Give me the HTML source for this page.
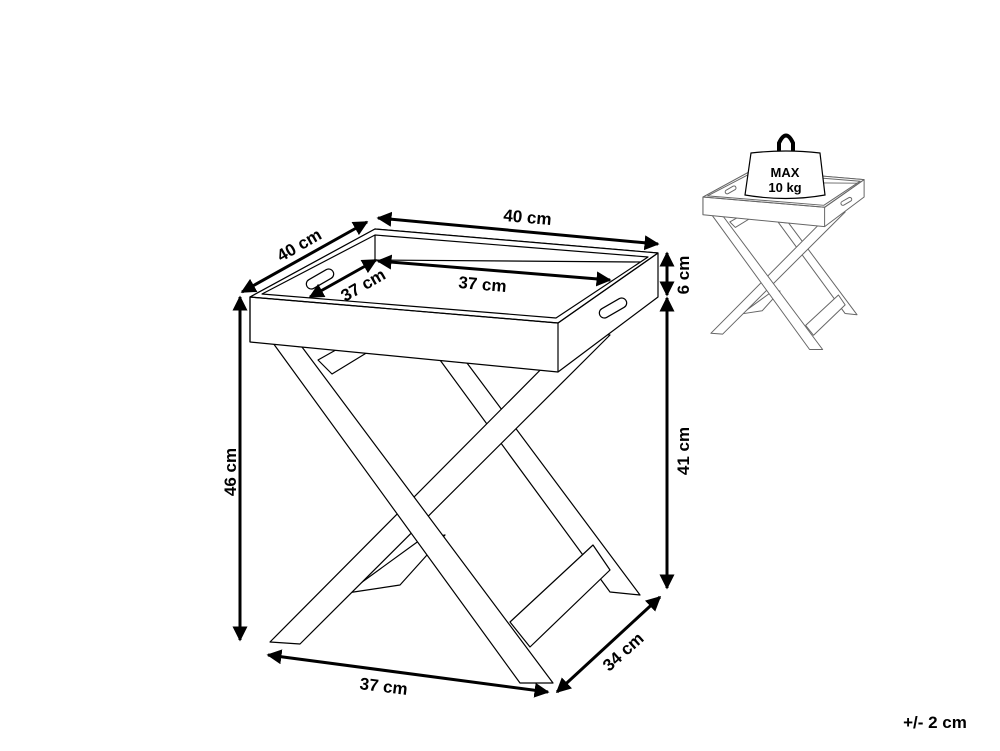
<!DOCTYPE html>
<html><head><meta charset="utf-8"><style>
html,body{margin:0;padding:0;background:#fff;}
svg{display:block;}
text{font-family:"Liberation Sans",sans-serif;font-weight:bold;fill:#000;}
</style></head><body>
<svg width="1000" height="751" viewBox="0 0 1000 751" xmlns="http://www.w3.org/2000/svg">
<defs>
<marker id="ah" viewBox="0 0 10 10" refX="9" refY="5" markerWidth="5" markerHeight="5" orient="auto-start-reverse" markerUnits="strokeWidth">
<path d="M0,0 L10,5 L0,10 z" fill="#000"/></marker>
<g id="table" fill="#fff" stroke-linejoin="round">
  <!-- back top crossbar -->
  <polygon points="318,360 350,342 368,352 332,374"/>
  <!-- back leg D sliver -->
  <polygon points="347,593 400,585 445,535 420,540"/>
  <!-- back leg C -->
  <polygon points="440,360 467,363 640,595 610,592"/>
  <!-- bottom bar -->
  <polygon points="510,622 593,545 610,570 530,647"/>
  <!-- front leg B -->
  <polygon points="270,642 300,644 610,335 580,330"/>
  <!-- front leg A -->
  <polygon points="273,343 302,347 553,683 520,683"/>
  <!-- tray -->
  <polygon points="250,297 375,229 658,253 658,297 558,372 250,342"/>
  <polygon points="250,297 375,229 658,253 558,323"/>
  <polyline points="250,342 250,297 558,323 558,372" fill="none"/>
  <line x1="558" y1="323" x2="658" y2="253"/>
  <polygon points="262,294 375,235 648,257 556,318"/>
  <polyline points="375,235 375,260 640,262" fill="none"/>
  <rect x="305" y="274" width="30" height="10" rx="5" transform="rotate(-30 320 279)"/>
  <rect x="598" y="303" width="30" height="10" rx="5" transform="rotate(-30 613 308)"/>
</g>
</defs>

<use href="#table" stroke="#000" stroke-width="1.2"/>
<g transform="translate(604.2,79.7) scale(0.395)"><use href="#table" stroke="#666" stroke-width="2.5"/></g>

<!-- weight -->
<path d="M779,153 L779,143 Q786,128 793,143 L793,153" fill="none" stroke="#000" stroke-width="4"/>
<path d="M751,153 Q786,149 820,153 L825,195 Q786,202 745,195 Z" fill="#fff" stroke="#000" stroke-width="1.2"/>
<text x="785" y="177" font-size="13" text-anchor="middle">MAX</text>
<text x="785" y="192" font-size="13" text-anchor="middle">10 kg</text>

<!-- dimension arrows -->
<g stroke="#000" stroke-width="3" fill="none" marker-start="url(#ah)" marker-end="url(#ah)">
  <line x1="378" y1="218" x2="658" y2="244"/>
  <line x1="242" y1="292" x2="367" y2="222"/>
  <line x1="310" y1="297" x2="376" y2="260"/>
  <line x1="378" y1="261" x2="610" y2="280"/>
  <line x1="667" y1="253" x2="667" y2="295"/>
  <line x1="667" y1="298" x2="667" y2="588"/>
  <line x1="240" y1="297" x2="240" y2="640"/>
  <line x1="268" y1="655" x2="548" y2="692"/>
  <line x1="557" y1="692" x2="660" y2="597"/>
</g>
<g font-size="17">
<text transform="translate(527,223) rotate(5)" text-anchor="middle">40 cm</text>
<text transform="translate(302,250) rotate(-30)" text-anchor="middle">40 cm</text>
<text transform="translate(366,290) rotate(-30)" text-anchor="middle">37 cm</text>
<text transform="translate(482,290) rotate(5)" text-anchor="middle">37 cm</text>
<text transform="translate(689,275) rotate(-90)" text-anchor="middle">6 cm</text>
<text transform="translate(689,451) rotate(-90)" text-anchor="middle">41 cm</text>
<text transform="translate(236,472) rotate(-90)" text-anchor="middle">46 cm</text>
<text transform="translate(383,692) rotate(7)" text-anchor="middle">37 cm</text>
<text transform="translate(627,656) rotate(-42)" text-anchor="middle">34 cm</text>
<text x="935" y="728" text-anchor="middle">+/- 2 cm</text>
</g>
</svg>
</body></html>
